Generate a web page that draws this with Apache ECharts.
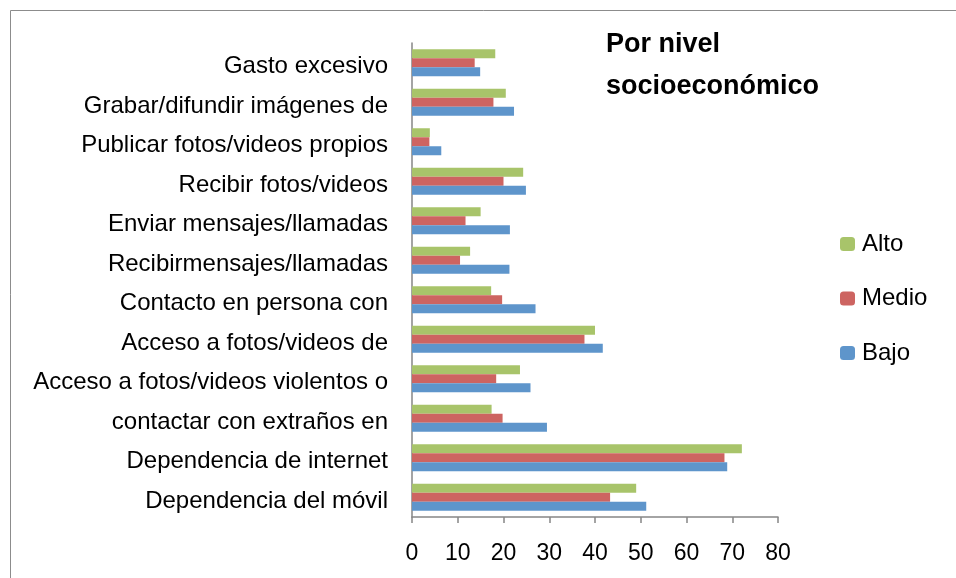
<!DOCTYPE html>
<html>
<head>
<meta charset="utf-8">
<script src="https://cdn.jsdelivr.net/npm/echarts@6/dist/echarts.min.js"></script>
<style>
  html, body { margin: 0; padding: 0; background: #fff; }
  #main { width: 956px; height: 578px; }
</style>
</head>
<body>
<div id="main"></div>
<script>
  // categorias, de abajo hacia arriba
  var categorias = [
    'Dependencia del móvil',
    'Dependencia de internet',
    'contactar con extraños en',
    'Acceso a fotos/videos violentos o',
    'Acceso a fotos/videos de',
    'Contacto en persona con',
    'Recibirmensajes/llamadas',
    'Enviar mensajes/llamadas',
    'Recibir fotos/videos',
    'Publicar fotos/videos propios',
    'Grabar/difundir imágenes de',
    'Gasto excesivo'
  ];
  var bajo  = [51.2, 68.9, 29.5, 25.9, 41.7, 27.0, 21.3, 21.4, 24.9, 6.4, 22.3, 14.9];
  var medio = [43.3, 68.3, 19.8, 18.4, 37.7, 19.7, 10.5, 11.7, 20.0, 3.8, 17.8, 13.7];
  var alto  = [49.0, 72.1, 17.4, 23.6, 40.0, 17.3, 12.7, 15.0, 24.3, 3.9, 20.5, 18.2];

  var font = 'Liberation Sans';
  var myChart = echarts.init(document.getElementById('main'));

  var option = {
    backgroundColor: '#fff',
    animation: false,
    title: {
      text: 'Por nivel\nsocioeconómico',
      left: 606,
      top: 24,
      padding: 0,
      textStyle: {
        fontFamily: font,
        fontSize: 27,
        fontWeight: 'bold',
        color: '#000',
        lineHeight: 42
      }
    },
    legend: {
      orient: 'vertical',
      left: 840,
      top: 232,
      padding: 0,
      itemWidth: 15,
      itemHeight: 14,
      itemGap: 30.5,
      data: ['Alto', 'Medio', 'Bajo'],
      textStyle: { fontFamily: font, fontSize: 24, color: '#000', padding: [0, 0, 0, 2] }
    },
    graphic: [{
      type: 'rect',
      shape: { x: 10.5, y: 10.5, width: 980, height: 600 },
      style: { fill: null, stroke: '#8c8c8c', lineWidth: 1 },
      silent: true
    }],
    grid: { left: 412, right: 178, top: 43, bottom: 61 },
    xAxis: {
      type: 'value',
      min: 0,
      max: 80,
      interval: 10,
      axisLine: { show: true, lineStyle: { color: '#868686', width: 1.5 } },
      axisTick: { show: true, length: 6, lineStyle: { color: '#868686', width: 1.5 } },
      splitLine: { show: false },
      axisLabel: { fontFamily: font, fontSize: 23, color: '#000', margin: 25 }
    },
    yAxis: {
      type: 'category',
      data: categorias,
      axisLine: { lineStyle: { color: '#868686', width: 1.5 } },
      axisTick: { length: 6, lineStyle: { color: '#868686', width: 1.5 } },
      axisLabel: {
        fontFamily: font, fontSize: 24, color: '#000', margin: 24,
        verticalAlign: 'top', lineHeight: 8
      }
    },
    series: [
      { name: 'Alto', type: 'bar', data: alto, barWidth: 9, barGap: '0%',
        itemStyle: { color: '#A8C46A' } },
      { name: 'Medio', type: 'bar', data: medio, barWidth: 9, barGap: '0%',
        itemStyle: { color: '#CD6461' } },
      { name: 'Bajo', type: 'bar', data: bajo, barWidth: 9, barGap: '0%',
        itemStyle: { color: '#5E95CB' } }
    ]
  };
  myChart.setOption(option);
</script>
</body>
</html>
